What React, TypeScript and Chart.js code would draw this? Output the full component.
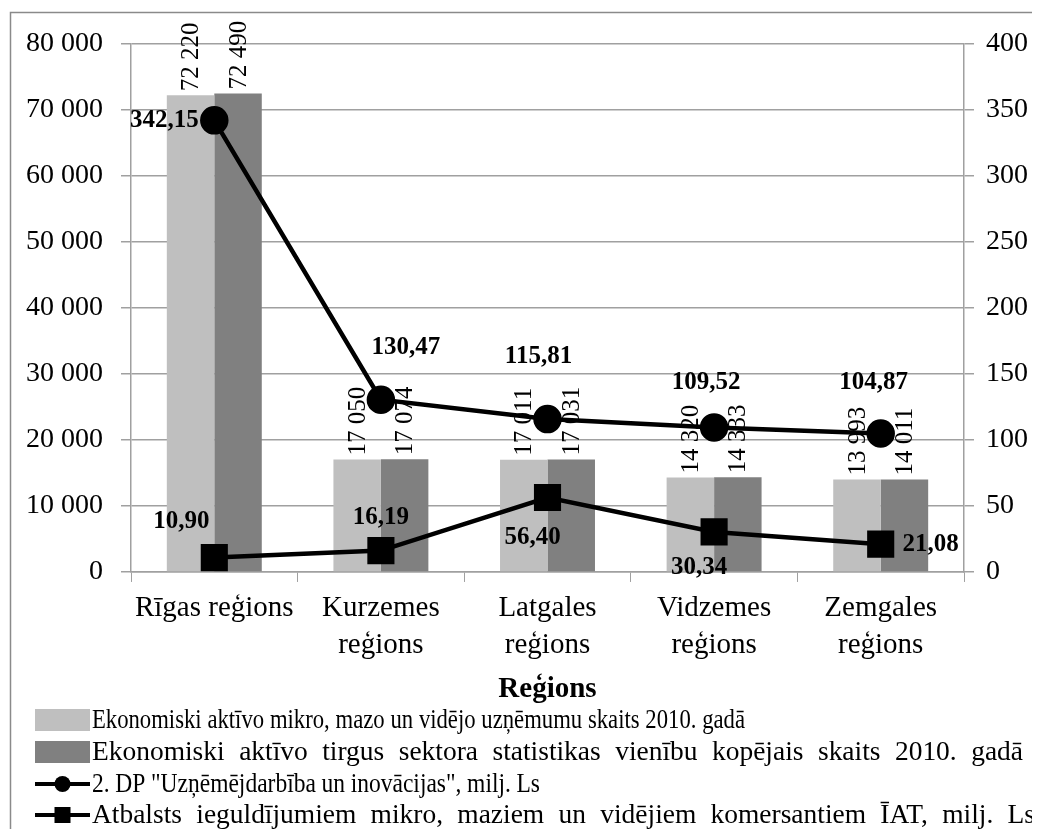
import React, { useEffect, useRef } from "react";
import { Chart, registerables } from "chart.js";

Chart.register(...registerables);

const categories: string[][] = [
  ["Rīgas reģions"],
  ["Kurzemes", "reģions"],
  ["Latgales", "reģions"],
  ["Vidzemes", "reģions"],
  ["Zemgales", "reģions"],
];
const smeCounts = [72220, 17050, 17011, 14320, 13993];
const marketUnits = [72490, 17074, 17031, 14333, 14011];
const dpFunding = [342.15, 130.47, 115.81, 109.52, 104.87];
const iatSupport = [10.9, 16.19, 56.4, 30.34, 21.08];

const seriesNames = [
  "Ekonomiski aktīvo mikro, mazo un vidējo uzņēmumu skaits 2010. gadā",
  "Ekonomiski aktīvo tirgus sektora statistikas vienību kopējais skaits 2010. gadā",
  "2. DP \"Uzņēmējdarbība un inovācijas\", milj. Ls",
  "Atbalsts ieguldījumiem mikro, maziem un vidējiem komersantiem ĪAT, milj. Ls",
];
const xTitle = "Reģions";

// label offsets (styling) for line value labels
const dpLabelOffsets = [[-50, 0], [25, -52], [-9, -63], [-8, -45], [-7, -51]];
const iatLabelOffsets = [[-33, -36], [0, -33], [-15, 40], [-15, 36], [50, 0]];
// legend text widths and glyph condensing (styling)
const legendTextWidths = [653, 931, 448, 943];
const legendGlyphScale = [0.81, 0.98, 0.84, 0.98];

const SERIF = "'Liberation Serif', 'Times New Roman', serif";

const fmtThousands = (v: number) =>
  String(Math.round(v)).replace(/\B(?=(\d{3})+(?!\d))/g, " ");
const fmtDec = (v: number) => v.toFixed(2).replace(".", ",");

function drawJustified(ctx: CanvasRenderingContext2D, text: string, x: number, y: number, target: number, sx: number) {
  const words = text.split(" ");
  ctx.save();
  ctx.translate(x, y);
  ctx.scale(sx, 1);
  const widths = words.map((w) => ctx.measureText(w).width);
  const total = widths.reduce((a, b) => a + b, 0);
  const gaps = Math.max(1, words.length - 1);
  const gap = (target / sx - total) / gaps;
  let cx = 0;
  words.forEach((w, i) => {
    ctx.fillText(w, cx, 0);
    cx += widths[i] + gap;
  });
  ctx.restore();
}

export default function App() {
  const ref = useRef<HTMLCanvasElement | null>(null);
  useEffect(() => {
    if (!ref.current) return;

    const labelsPlugin = {
      id: "customLabels",
      beforeDraw(chart: any) {
        const ctx = chart.ctx;
        ctx.save();
        ctx.strokeStyle = "#8a8a8a";
        ctx.lineWidth = 1.5;
        ctx.strokeRect(2.5, 4.5, 1100, 1000);
        ctx.restore();
      },
      beforeDatasetsDraw(chart: any) {
        const ctx = chart.ctx;
        ctx.save();
        ctx.font = `25px ${SERIF}`;
        ctx.fillStyle = "#000";
        ctx.textAlign = "left";
        ctx.textBaseline = "middle";
        [0, 1].forEach((di) => {
          const meta = chart.getDatasetMeta(di);
          const vals = di === 0 ? smeCounts : marketUnits;
          meta.data.forEach((el: any, i: number) => {
            ctx.save();
            ctx.translate(el.x, el.y - 4);
            ctx.rotate(-Math.PI / 2);
            ctx.fillText(fmtThousands(vals[i]), 0, 1);
            ctx.restore();
          });
        });
        ctx.restore();
      },
      afterDatasetsDraw(chart: any) {
        const ctx = chart.ctx;
        ctx.save();
        ctx.font = `bold 25px ${SERIF}`;
        ctx.fillStyle = "#000";
        ctx.textAlign = "center";
        ctx.textBaseline = "middle";
        [2, 3].forEach((di) => {
          const meta = chart.getDatasetMeta(di);
          const vals = di === 2 ? dpFunding : iatSupport;
          const offs = di === 2 ? dpLabelOffsets : iatLabelOffsets;
          meta.data.forEach((el: any, i: number) => {
            ctx.fillText(fmtDec(vals[i]), el.x + offs[i][0], el.y + offs[i][1]);
          });
        });
        ctx.restore();
      },
      afterDraw(chart: any) {
        const ctx = chart.ctx;
        ctx.save();
        const x0 = 27;
        const x1 = 82;
        const ys = [712, 744, 776, 807];
        ctx.font = `28px ${SERIF}`;
        ctx.textBaseline = "middle";
        ctx.textAlign = "left";
        ys.forEach((y, i) => {
          if (i === 0 || i === 1) {
            ctx.fillStyle = i === 0 ? "#BFBFBF" : "#808080";
            ctx.fillRect(x0, y - 11, x1 - x0, 22);
          } else {
            ctx.strokeStyle = "#000";
            ctx.lineWidth = 4;
            ctx.beginPath();
            ctx.moveTo(x0, y);
            ctx.lineTo(x1, y);
            ctx.stroke();
            ctx.fillStyle = "#000";
            const cx = (x0 + x1) / 2;
            if (i === 2) {
              ctx.beginPath();
              ctx.arc(cx, y, 8, 0, Math.PI * 2);
              ctx.fill();
            } else {
              ctx.fillRect(cx - 8, y - 8, 16, 16);
            }
          }
          ctx.fillStyle = "#000";
          drawJustified(ctx, seriesNames[i], x1 + 2, y + 1, legendTextWidths[i], legendGlyphScale[i]);
        });
        ctx.restore();
      },
    };

    const chart = new Chart(ref.current, {
      type: "bar",
      data: {
        labels: categories,
        datasets: [
          {
            type: "bar",
            label: seriesNames[0],
            data: smeCounts,
            backgroundColor: "#BFBFBF",
            yAxisID: "y",
            order: 2,
            categoryPercentage: 0.57,
            barPercentage: 1,
          },
          {
            type: "bar",
            label: seriesNames[1],
            data: marketUnits,
            backgroundColor: "#808080",
            yAxisID: "y",
            order: 2,
            categoryPercentage: 0.57,
            barPercentage: 1,
          },
          {
            type: "line",
            label: seriesNames[2],
            data: dpFunding,
            borderColor: "#000",
            backgroundColor: "#000",
            borderWidth: 4.5,
            pointStyle: "circle",
            pointRadius: 12,
            yAxisID: "y1",
            order: 1,
          },
          {
            type: "line",
            label: seriesNames[3],
            data: iatSupport,
            borderColor: "#000",
            backgroundColor: "#000",
            borderWidth: 4.5,
            pointStyle: "rect",
            pointRadius: 16,
            yAxisID: "y1",
            order: 1,
          },
        ] as any,
      },
      options: {
        responsive: false,
        animation: false,
        layout: { padding: { left: 0, right: 0, top: 36, bottom: 122 } },
        plugins: {
          legend: { display: false },
          tooltip: { enabled: false },
        },
        scales: {
          x: {
            grid: {
              display: true,
              drawOnChartArea: false,
              drawTicks: true,
              tickLength: 10,
              color: "#A0A0A0",
              offset: true,
            },
            border: { color: "#A0A0A0", width: 1.5 },
            ticks: {
              color: "#000",
              font: { family: SERIF, size: 29, lineHeight: 1.28 },
              maxRotation: 0,
              autoSkip: false,
              padding: 8,
            },
            title: {
              display: true,
              text: xTitle,
              color: "#000",
              font: { family: SERIF, size: 29, weight: "bold" },
              padding: { top: 0, bottom: 0 },
            },
          },
          y: {
            position: "left",
            min: 0,
            max: 80000,
            ticks: {
              stepSize: 10000,
              color: "#000",
              font: { family: SERIF, size: 28 },
              padding: 18,
              callback: (v: any) => fmtThousands(Number(v)),
            },
            grid: {
              color: "#A0A0A0",
              lineWidth: 1.5,
              tickLength: 10,
            },
            border: { color: "#A0A0A0", width: 1.5 },
          },
          y1: {
            position: "right",
            min: 0,
            max: 400,
            ticks: {
              stepSize: 50,
              color: "#000",
              font: { family: SERIF, size: 28 },
              padding: 12,
            },
            grid: {
              drawOnChartArea: false,
              color: "#A0A0A0",
              lineWidth: 1.5,
              tickLength: 10,
            },
            border: { color: "#A0A0A0", width: 1.5 },
          },
        },
      } as any,
      plugins: [labelsPlugin],
    });
    return () => chart.destroy();
  }, []);

  return (
    <div style={{ width: 1032, height: 821 }}>
      <canvas ref={ref} width={1032} height={821} style={{ display: "block" }} />
    </div>
  );
}
